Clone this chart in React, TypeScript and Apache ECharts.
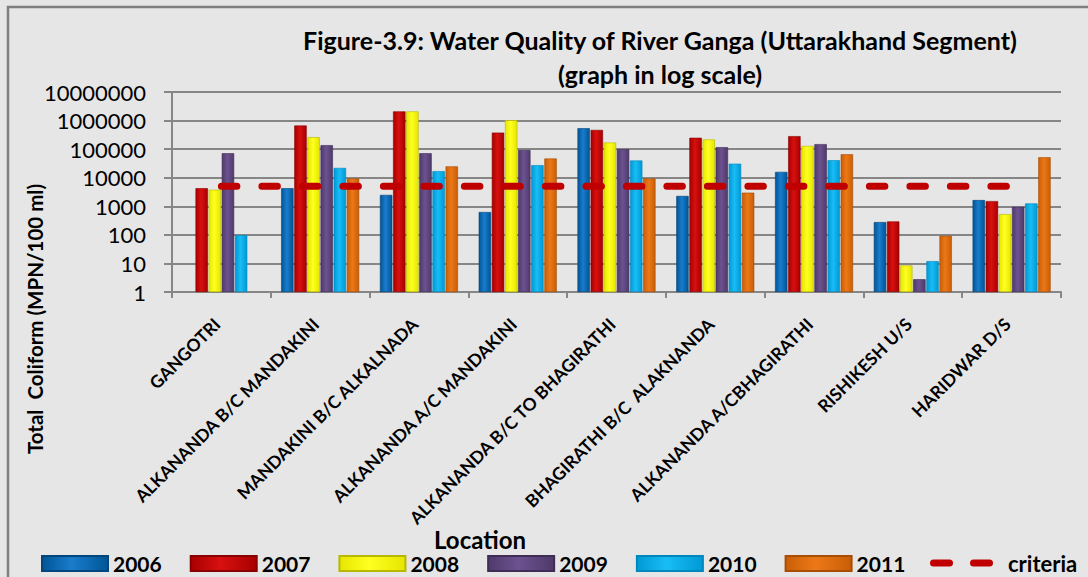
import React, { useEffect, useRef } from "react";
import * as echarts from "echarts";

const locations = [
  "GANGOTRI",
  "ALKANANDA B/C MANDAKINI",
  "MANDAKINI B/C ALKALNADA",
  "ALKANANDA A/C MANDAKINI",
  "ALKANANDA B/C TO BHAGIRATHI",
  "BHAGIRATHI B/C  ALAKNANDA",
  "ALKANANDA A/CBHAGIRATHI",
  "RISHIKESH U/S",
  "HARIDWAR D/S",
];

const y2006 = [null, 4300, 2500, 630, 540000, 2300, 16000, 280, 1650];
const y2007 = [4300, 670000, 2100000, 380000, 470000, 250000, 285000, 295, 1520];
const y2008 = [3800, 263000, 2100000, 1030000, 170000, 218000, 130000, 8.5, 530];
const y2009 = [72000, 138000, 72000, 93000, 100000, 117000, 150000, 2.8, 960];
const y2010 = [98, 22000, 17000, 27500, 40000, 31000, 41000, 12, 1260];
const y2011 = [null, 9400, 25000, 47000, 9400, 3000, 66000, 93, 52000];
const criteria = [5000, 5000, 5000, 5000, 5000, 5000, 5000, 5000, 5000];

const yTicks = ["1", "10", "100", "1000", "10000", "100000", "1000000", "10000000"];

const FONT = "Lato";

function grad(dark: string, light: string) {
  return new echarts.graphic.LinearGradient(0, 0, 1, 0, [
    { offset: 0, color: dark },
    { offset: 0.45, color: light },
    { offset: 1, color: dark },
  ]);
}

const barSeries = [
  { name: "2006", data: y2006, dark: "#005596", light: "#1a7ccc", border: "#00457c" },
  { name: "2007", data: y2007, dark: "#a80000", light: "#d81010", border: "#8a0000" },
  { name: "2008", data: y2008, dark: "#e6e600", light: "#ffff20", border: "#b8b800" },
  { name: "2009", data: y2009, dark: "#4f3a6a", light: "#6c5290", border: "#3f2d56" },
  { name: "2010", data: y2010, dark: "#0099d6", light: "#19bdf5", border: "#0088bd" },
  { name: "2011", data: y2011, dark: "#c95e06", light: "#ec7818", border: "#a84e04" },
];

export default function App() {
  const ref = useRef<HTMLDivElement>(null);
  useEffect(() => {
    if (!ref.current) return;
    const chart = echarts.init(ref.current, undefined, { renderer: "svg" });
    const series: any[] = barSeries.map((s) => ({
      name: s.name,
      type: "bar",
      data: s.data,
      barGap: "6%",
      barCategoryGap: "21%",
      itemStyle: {
        color: grad(s.dark, s.light),
        borderColor: s.border,
        borderWidth: 0.6,
      },
    }));
    series.push({
      name: "criteria",
      type: "line",
      data: criteria,
      symbol: "none",
      z: 5,
      lineStyle: { color: "#c00000", width: 7, type: [15.5, 25], cap: "round" },
      itemStyle: { color: "#c00000" },
    });
    chart.setOption({
      animation: false,
      backgroundColor: "#e6e6e6",
      textStyle: { fontFamily: FONT },
      title: {
        text: "Figure-3.9: Water Quality of River Ganga (Uttarakhand Segment)\n(graph in log scale)",
        left: 655,
        top: 18,
        textAlign: "center",
        textStyle: {
          fontFamily: FONT,
          fontWeight: "bold",
          fontSize: 25,
          lineHeight: 34,
          color: "#000",
        },
      },
      grid: { left: 172, top: 92, right: 27, bottom: 285, containLabel: false },
      legend: {
        left: 41,
        top: 553,
        padding: 0,
        itemWidth: 66,
        itemHeight: 15,
        itemGap: 28,
        textStyle: { fontFamily: FONT, fontWeight: "bold", fontSize: 21, color: "#000" },
        data: barSeries.map((s) => ({ name: s.name, icon: "rect" })),
      },
      xAxis: {
        type: "category",
        data: locations,
        axisLine: { lineStyle: { color: "#868686", width: 2 } },
        axisTick: { show: true, length: 6, lineStyle: { color: "#868686", width: 2 } },
        axisLabel: {
          rotate: 45,
          margin: 25,
          padding: [0, 6, 0, 0],
          interval: 0,
          fontFamily: FONT,
          fontWeight: "bold",
          fontSize: 17.5,
          color: "#000",
        },
      },
      yAxis: {
        type: "log",
        logBase: 10,
        min: 1,
        max: 10000000,
        axisLine: { show: true, lineStyle: { color: "#868686", width: 2 } },
        axisTick: { show: true, inside: false, length: 8, lineStyle: { color: "#868686", width: 2 } },
        splitLine: { show: true, lineStyle: { color: "#868686", width: 2 } },
        axisLabel: {
          margin: 26,
          fontFamily: FONT,
          fontSize: 22,
          color: "#000",
          formatter: (v: number) => yTicks[Math.round(Math.log10(v))] ?? String(v),
        },
      },
      graphic: [
        {
          type: "rect",
          shape: { x: 8, y: 7, width: 1200, height: 700 },
          style: { fill: "none", stroke: "#7f7f7f", lineWidth: 2.5 },
          silent: true,
        },
        {
          type: "text",
          x: 35,
          y: 319,
          rotation: Math.PI / 2,
          style: {
            text: "Total  Coliform (MPN/100 ml)",
            fontFamily: FONT,
            fontWeight: "bold",
            fontSize: 20.5,
            fill: "#000",
            align: "center",
            verticalAlign: "middle",
          },
        },
        {
          type: "text",
          x: 480,
          y: 539,
          style: {
            text: "Location",
            fontFamily: FONT,
            fontWeight: "bold",
            fontSize: 24,
            fill: "#000",
            align: "center",
            verticalAlign: "middle",
          },
        },
        {
          type: "line",
          shape: { x1: 933.5, y1: 563, x2: 949.5, y2: 563 },
          style: { stroke: "#c00000", lineWidth: 7, lineCap: "round" },
        },
        {
          type: "line",
          shape: { x1: 973.5, y1: 563, x2: 989.5, y2: 563 },
          style: { stroke: "#c00000", lineWidth: 7, lineCap: "round" },
        },
        {
          type: "text",
          x: 1008,
          y: 563,
          style: {
            text: "criteria",
            fontFamily: FONT,
            fontWeight: "bold",
            fontSize: 22,
            fill: "#000",
            align: "left",
            verticalAlign: "middle",
          },
        },
      ],
      series,
    });
    return () => chart.dispose();
  }, []);
  return (
    <div
      ref={ref}
      style={{ position: "fixed", left: 0, top: 0, width: 1088, height: 577 }}
    />
  );
}
